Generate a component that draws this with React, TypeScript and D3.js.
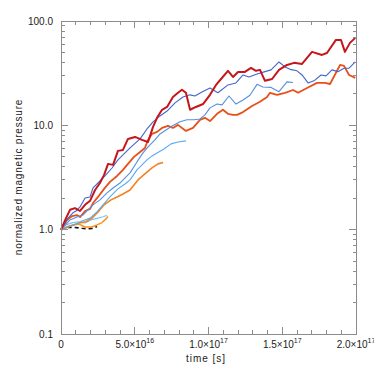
import React, { useRef, useEffect } from 'react'
import * as d3 from 'd3'

// times below are in units of 1e16 s
const T = 1e16

// [time, normalized magnetic pressure]
const darkRed = [
  [0, 1], [0.34, 1.29], [0.61, 1.55], [0.95, 1.61], [1.29, 1.51], [1.63, 1.73], [1.97, 1.89],
  [2.31, 2.4], [2.64, 2.8], [2.92, 3.35], [3.19, 4.27], [3.53, 4.18], [3.86, 5.69], [4.2, 5.81],
  [4.54, 7.41], [5.02, 7.74], [5.49, 7.25], [5.9, 6.93], [6.24, 9.66], [6.51, 11.8], [6.85, 14.1],
  [7.19, 15.0], [7.59, 18.7], [7.93, 20.5], [8.2, 21.9], [8.47, 20.5], [8.75, 14.1], [9.15, 15.0],
  [9.63, 16.0], [10.1, 19.6], [10.51, 24.4], [10.85, 27.8], [11.32, 33.3], [11.66, 29.1],
  [12.0, 32.5], [12.47, 32.5], [12.88, 35.5], [13.22, 33.3], [13.49, 34.0], [13.83, 26.7],
  [14.31, 27.8], [14.78, 34.0], [15.32, 37.9], [15.8, 39.7], [16.34, 38.8], [17.02, 50.6],
  [17.69, 47.3], [18.03, 49.4], [18.64, 65.9], [18.98, 65.9], [19.25, 50.6], [19.59, 61.7],
  [19.95, 68.9],
]

const royalBlue = [
  [0, 1], [0.47, 1.29], [0.81, 1.45], [1.02, 1.51], [1.29, 1.65], [1.63, 2.01], [1.97, 2.06],
  [2.17, 2.51], [2.51, 2.8], [2.98, 3.27], [3.46, 3.9], [3.86, 4.66], [4.27, 5.32], [4.68, 6.07],
  [5.36, 7.41], [5.83, 9.23], [6.24, 10.8], [6.71, 12.3], [7.19, 13.7], [7.73, 16.4], [8.27, 18.7],
  [8.75, 19.6], [9.08, 19.1], [9.56, 20.9], [10.1, 22.8], [10.64, 20.5], [11.32, 24.4],
  [11.86, 25.5], [12.34, 30.4], [12.75, 29.1], [13.29, 31.1], [13.83, 32.7], [14.24, 34.0],
  [14.78, 40.5], [15.19, 36.3], [15.53, 34.4], [16.0, 33.3], [16.34, 30.4], [16.75, 25.5],
  [17.15, 26.7], [17.63, 30.4], [17.97, 29.8], [18.37, 34.0], [18.78, 32.7], [19.19, 35.3],
  [19.53, 35.3], [19.95, 40.5],
]

const midBlue = [
  [0, 1], [0.61, 1.24], [1.08, 1.32], [1.49, 1.38], [1.83, 1.55], [2.17, 1.73], [2.64, 1.93],
  [3.12, 2.25], [3.53, 2.51], [4.0, 2.8], [4.34, 3.13], [4.68, 3.5], [5.15, 4.46], [5.56, 5.44],
  [5.9, 6.21], [6.37, 7.25], [6.71, 8.27], [7.12, 9.03], [7.53, 9.87], [8.07, 10.8], [8.54, 11.3],
  [9.02, 11.3], [9.42, 11.5], [9.76, 12.6], [10.1, 14.7], [10.58, 16.0], [10.92, 15.7],
  [11.39, 19.1], [11.86, 16.0], [12.34, 17.5], [12.81, 19.4], [13.29, 24.7], [13.69, 23.3],
  [14.24, 23.1], [14.78, 21.0], [15.32, 26.1], [15.73, 25.7],
]

const lightBlue = [
  [0, 1], [0.88, 1.11], [1.42, 1.21], [1.97, 1.29], [2.44, 1.48], [2.85, 1.73], [3.32, 2.06],
  [3.86, 2.46], [4.34, 2.74], [4.68, 3.0], [5.15, 3.74], [5.56, 4.27], [5.83, 4.66], [6.17, 5.09],
  [6.51, 5.44], [6.98, 5.94], [7.46, 6.64], [7.93, 6.93], [8.47, 7.1],
]

const orangeRed = [
  [0, 1], [0.41, 1.24], [0.75, 1.35], [1.08, 1.38], [1.29, 1.32], [1.63, 1.51], [1.97, 1.58],
  [2.17, 1.8], [2.51, 2.06], [2.92, 2.46], [3.32, 2.87], [3.8, 3.27], [4.2, 3.74], [4.54, 4.27],
  [4.95, 4.98], [5.36, 5.56], [5.69, 6.07], [5.9, 7.25], [6.17, 8.27], [6.51, 8.65], [6.85, 9.44],
  [7.25, 9.87], [7.59, 9.44], [7.93, 10.1], [8.47, 8.84], [8.95, 9.44], [9.42, 11.3], [9.76, 11.8],
  [10.1, 11.0], [10.58, 12.9], [10.98, 14.1], [11.32, 12.9], [11.66, 12.6], [11.93, 12.6],
  [12.34, 13.4], [12.95, 15.3], [13.49, 16.8], [13.97, 18.7], [14.17, 20.5], [14.64, 19.6],
  [15.19, 20.5], [15.73, 21.8], [16.07, 20.5], [16.68, 22.8], [17.36, 25.5], [17.9, 25.5],
  [18.24, 24.9], [18.92, 37.9], [19.19, 37.1], [19.53, 30.4], [19.95, 28.5],
]

const orange = [
  [0, 1], [0.61, 1.08], [1.15, 1.15], [1.69, 1.19], [2.1, 1.29], [2.51, 1.48], [2.92, 1.73],
  [3.39, 1.93], [3.8, 2.06], [4.2, 2.2], [4.68, 2.4], [5.22, 3.0], [5.69, 3.42], [6.17, 3.91],
  [6.58, 4.27], [6.92, 4.41],
]

const paleBlue = [
  [0, 1], [0.34, 1.11], [0.75, 1.16], [1.15, 1.19], [1.63, 1.16], [2.03, 1.24], [2.51, 1.29],
  [2.85, 1.33], [3.12, 1.37],
]

const paleOrange = [
  [0, 1], [0.41, 1.07], [0.81, 1.11], [1.22, 1.13], [1.63, 1.06], [2.1, 1.06], [2.44, 1.11],
  [2.78, 1.17], [2.98, 1.24], [3.19, 1.34],
]

const reference = [
  [0, 1], [0.47, 1.05], [0.95, 1.05], [1.42, 1.03], [1.83, 1.02], [2.17, 1.03], [2.44, 1.07],
]

const xTicks = [0, 5e16, 1e17, 1.5e17, 2e17]
const xTickLabels = [['0', ''], ['5.0×10', '16'], ['1.0×10', '17'], ['1.5×10', '17'], ['2.0×10', '17']]
const yTicks = [0.1, 1, 10, 100]
const yTickLabels = ['0.1', '1.0', '10.0', '100.0']

const series = [
  { data: reference, color: '#111111', width: 1.6, dash: '4,3' },
  { data: paleOrange, color: '#f7941d', width: 1.5 },
  { data: paleBlue, color: '#7cc4f8', width: 1.2 },
  { data: orange, color: '#f5821f', width: 1.6 },
  { data: lightBlue, color: '#5aaaf0', width: 1.1 },
  { data: orangeRed, color: '#e8501a', width: 1.8 },
  { data: midBlue, color: '#5590e0', width: 1.1 },
  { data: royalBlue, color: '#4466cc', width: 1.1 },
  { data: darkRed, color: '#c4161c', width: 2 },
]

export default function App() {
  const ref = useRef(null)

  useEffect(() => {
    const svg = d3.select(ref.current)
    svg.selectAll('*').remove()

    const left = 61, right = 356, top = 21, bottom = 334
    const x = d3.scaleLinear().domain([0, 2e17]).range([left, right])
    const y = d3.scaleLog().domain([0.1, 100]).range([bottom, top])
    const axisColor = '#8c8c8c'
    const font = 'Liberation Sans, Arial, sans-serif'

    const g = svg.append('g')

    // lines first, frame on top
    const line = d3
      .line()
      .x(d => x(d[0] * T))
      .y(d => y(d[1]))

    series.forEach(s => {
      g.append('path')
        .attr('d', line(s.data))
        .attr('fill', 'none')
        .attr('stroke', s.color)
        .attr('stroke-width', s.width)
        .attr('stroke-linejoin', 'round')
        .attr('stroke-dasharray', s.dash || null)
    })

    const axes = g.append('g').attr('stroke', axisColor).attr('shape-rendering', 'crispEdges')
    axes.append('rect')
      .attr('x', left).attr('y', top)
      .attr('width', right - left).attr('height', bottom - top)
      .attr('fill', 'none')

    // x ticks, every 1e16, both bottom and top, pointing inward
    d3.range(0, 21).forEach(i => {
      const xv = x(i * T)
      const len = i % 5 === 0 ? 7 : 4
      axes.append('line').attr('x1', xv).attr('x2', xv).attr('y1', bottom).attr('y2', bottom - len)
      axes.append('line').attr('x1', xv).attr('x2', xv).attr('y1', top).attr('y2', top + len)
    })

    // y ticks, decades plus 2..9 minors, left and right
    yTicks.forEach(d => {
      const yv = y(d)
      axes.append('line').attr('x1', left).attr('x2', left + 7).attr('y1', yv).attr('y2', yv)
      axes.append('line').attr('x1', right).attr('x2', right - 7).attr('y1', yv).attr('y2', yv)
    })
    yTicks.slice(0, 3).forEach(d => {
      d3.range(2, 10).forEach(k => {
        const yv = y(d * k)
        axes.append('line').attr('x1', left).attr('x2', left + 3.5).attr('y1', yv).attr('y2', yv)
        axes.append('line').attr('x1', right).attr('x2', right - 3.5).attr('y1', yv).attr('y2', yv)
      })
    })

    // tick labels
    yTicks.forEach((d, i) => {
      g.append('text')
        .attr('x', left - 8)
        .attr('y', y(d))
        .attr('dy', '0.35em')
        .attr('text-anchor', 'end')
        .attr('font-family', font)
        .attr('font-size', 10)
        .attr('fill', '#222')
        .text(yTickLabels[i])
    })

    xTicks.forEach((d, i) => {
      const t = g.append('text')
        .attr('x', x(d))
        .attr('y', 348)
        .attr('text-anchor', 'middle')
        .attr('font-family', font)
        .attr('font-size', 10)
        .attr('fill', '#222')
      t.append('tspan').text(xTickLabels[i][0])
      if (xTickLabels[i][1]) {
        t.append('tspan').attr('dy', -5).attr('font-size', 7).text(xTickLabels[i][1])
      }
    })

    // axis titles
    g.append('text')
      .attr('x', 206)
      .attr('y', 362)
      .attr('text-anchor', 'middle')
      .attr('font-family', font)
      .attr('font-size', 10)
      .attr('letter-spacing', 1)
      .attr('fill', '#222')
      .text('time [s]')

    g.append('text')
      .attr('transform', 'translate(22, 177) rotate(-90)')
      .attr('text-anchor', 'middle')
      .attr('font-family', font)
      .attr('font-size', 10)
      .attr('letter-spacing', 0.8)
      .attr('fill', '#222')
      .text('normalized magnetic pressure')
  }, [])

  return (
    <svg
      ref={ref}
      width={374}
      height={374}
      style={{ position: 'absolute', left: 0, top: 0, background: '#fff' }}
    />
  )
}
